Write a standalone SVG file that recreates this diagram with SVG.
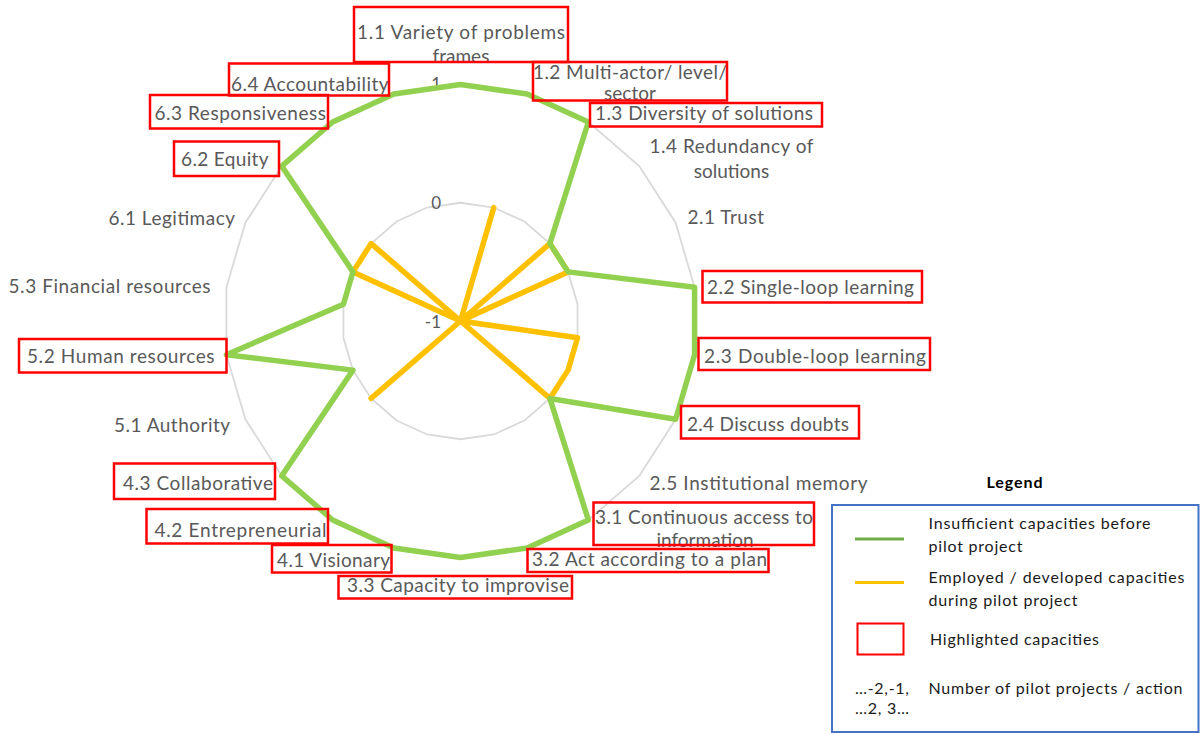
<svg xmlns="http://www.w3.org/2000/svg" width="1201" height="734" viewBox="0 0 1201 734">
<style>
.lbl{font-family:Lato,"Liberation Sans",sans-serif;font-size:19px;fill:#595959}
.tick{font-family:Lato,"Liberation Sans",sans-serif;font-size:17px;fill:#595959;text-anchor:end}
.hl{fill:none;stroke:#ff0000;stroke-width:2.5}
.grid{fill:none;stroke:#d9d9d9;stroke-width:1.8}
.lg{font-family:Lato,"Liberation Sans",sans-serif;font-size:16px;fill:#1a1a1a}
</style>
<rect width="1201" height="734" fill="#ffffff"/>
<g id="grid">
<polygon class="grid" points="460.5,84.5 527.13,94.08 588.36,122.04 639.24,166.13 675.63,222.75 694.59,287.34 694.59,354.66 675.63,419.25 639.24,475.87 588.36,519.96 527.13,547.92 460.5,557.5 393.87,547.92 332.64,519.96 281.76,475.87 245.37,419.25 226.41,354.66 226.41,287.34 245.37,222.75 281.76,166.13 332.64,122.04 393.87,94.08"/>
<polygon class="grid" points="460.5,202.75 493.81,207.54 524.43,221.52 549.87,243.56 568.06,271.88 577.55,304.17 577.55,337.83 568.06,370.12 549.87,398.44 524.43,420.48 493.81,434.46 460.5,439.25 427.19,434.46 396.57,420.48 371.13,398.44 352.94,370.12 343.45,337.83 343.45,304.17 352.94,271.88 371.13,243.56 396.57,221.52 427.19,207.54"/>
<text class="tick" x="441" y="90">1</text>
<text class="tick" x="441" y="209">0</text>
<text class="tick" x="441" y="328">-1</text>
</g>
<g id="connectors">
<polygon id="series-employed" fill="none" stroke="#ffc000" stroke-width="5.5" stroke-linejoin="round" points="460.5,321 493.81,207.54 460.5,321 549.87,243.56 568.06,271.88 460.5,321 577.55,337.83 568.06,370.12 549.87,398.44 460.5,321 371.13,398.44 460.5,321 352.94,271.88 371.13,243.56 460.5,321"/>
<polygon id="series-insufficient" fill="none" stroke="#92d050" stroke-width="5.5" stroke-linejoin="round" points="460.5,84.5 527.13,94.08 588.36,122.04 549.87,243.56 568.06,271.88 694.59,287.34 694.59,354.66 675.63,419.25 549.87,398.44 588.36,519.96 527.13,547.92 460.5,557.5 393.87,547.92 332.64,519.96 281.76,475.87 352.94,370.12 226.41,354.66 343.45,304.17 352.94,271.88 281.76,166.13 332.64,122.04 393.87,94.08"/>
</g>
<g id="n1-1"><text class="lbl" x="357" y="38.5" textLength="208">1.1 Variety of problems</text><text class="lbl" x="461" y="62.5" text-anchor="middle">frames</text><rect class="hl" x="354" y="7" width="214" height="55"/></g>
<g id="n1-2"><text class="lbl" x="533" y="78.5" textLength="194">1.2 Multi-actor/ level/</text><text class="lbl" x="630" y="99.5" text-anchor="middle">sector</text><rect class="hl" x="533" y="62" width="194" height="38.5"/></g>
<g id="n1-3"><text class="lbl" x="595" y="119.5" textLength="218">1.3 Diversity of solutions</text><rect class="hl" x="590" y="103" width="232" height="23.5"/></g>
<g id="n1-4"><text class="lbl" x="649.5" y="153" textLength="164">1.4 Redundancy of</text><text class="lbl" x="731.5" y="177.5" text-anchor="middle">solutions</text></g>
<g id="n2-1"><text class="lbl" x="687.5" y="224" textLength="76.5">2.1 Trust</text></g>
<g id="n2-2"><text class="lbl" x="707" y="294" textLength="207">2.2 Single-loop learning</text><rect class="hl" x="702.5" y="271" width="219.5" height="31.5"/></g>
<g id="n2-3"><text class="lbl" x="704" y="363" textLength="222">2.3 Double-loop learning</text><rect class="hl" x="698.5" y="338" width="231.5" height="32"/></g>
<g id="n2-4"><text class="lbl" x="687" y="431" textLength="162">2.4 Discuss doubts</text><rect class="hl" x="681" y="406" width="178" height="32.5"/></g>
<g id="n2-5"><text class="lbl" x="649.5" y="490" textLength="218">2.5 Institutional memory</text></g>
<g id="n3-1"><text class="lbl" x="595" y="523.5" textLength="218">3.1 Continuous access to</text><text class="lbl" x="705" y="546.5" text-anchor="middle">information</text><rect class="hl" x="593.5" y="502.5" width="220.5" height="42.5"/></g>
<g id="n3-2"><text class="lbl" x="532" y="565.5" textLength="235">3.2 Act according to a plan</text><rect class="hl" x="527.5" y="549" width="241" height="23"/></g>
<g id="n3-3"><text class="lbl" x="347" y="591.5" textLength="222">3.3 Capacity to improvise</text><rect class="hl" x="338.5" y="576" width="233.5" height="22.5"/></g>
<g id="n4-1"><text class="lbl" x="277" y="566.5" textLength="113">4.1 Visionary</text><rect class="hl" x="272" y="545" width="119.5" height="27.5"/></g>
<g id="n4-2"><text class="lbl" x="154.5" y="536.5" textLength="172">4.2 Entrepreneurial</text><rect class="hl" x="146.5" y="509" width="181.5" height="34.5"/></g>
<g id="n4-3"><text class="lbl" x="123" y="490" textLength="150">4.3 Collaborative</text><rect class="hl" x="114" y="463.5" width="161" height="35.5"/></g>
<g id="n5-1"><text class="lbl" x="114" y="431.5" textLength="116">5.1 Authority</text></g>
<g id="n5-2"><text class="lbl" x="27" y="363" textLength="187.5">5.2 Human resources</text><rect class="hl" x="19" y="339" width="207.5" height="33.5"/></g>
<g id="n5-3"><text class="lbl" x="8.5" y="293" textLength="202">5.3 Financial resources</text></g>
<g id="n6-1"><text class="lbl" x="108.5" y="225" textLength="126.5">6.1 Legitimacy</text></g>
<g id="n6-2"><text class="lbl" x="181" y="166" textLength="87.5">6.2 Equity</text><rect class="hl" x="174" y="141.5" width="105" height="34.5"/></g>
<g id="n6-3"><text class="lbl" x="154.5" y="120" textLength="171.5">6.3 Responsiveness</text><rect class="hl" x="150" y="95" width="178" height="33.5"/></g>
<g id="n6-4"><text class="lbl" x="231" y="90.5" textLength="157.5">6.4 Accountability</text><rect class="hl" x="229" y="63.5" width="160" height="32"/></g>
<g id="legend">
<text x="986.5" y="487.5" font-family="Lato,'Liberation Sans',sans-serif" font-size="16" font-weight="bold" fill="#000000" textLength="56">Legend</text>
<rect x="832" y="505" width="366.5" height="227" fill="none" stroke="#4472c4" stroke-width="2"/>
<line x1="855" y1="539" x2="904" y2="539" stroke="#70ad47" stroke-width="3"/>
<text class="lg" x="928.5" y="528.5" textLength="222">Insufficient capacities before</text>
<text class="lg" x="928.5" y="551.5" textLength="94">pilot project</text>
<line x1="855" y1="582.5" x2="904" y2="582.5" stroke="#ffc000" stroke-width="3"/>
<text class="lg" x="928.5" y="582.5" textLength="256">Employed / developed capacities</text>
<text class="lg" x="928.5" y="605.5" textLength="149">during pilot project</text>
<rect x="857.5" y="623.5" width="46" height="31" fill="none" stroke="#ff0000" stroke-width="2"/>
<text class="lg" x="930" y="645" textLength="169">Highlighted capacities</text>
<text class="lg" x="855" y="693.5" font-size="14" textLength="54">…-2,-1,</text>
<text class="lg" x="855" y="713.5" font-size="14" textLength="54">…2, 3…</text>
<text class="lg" x="928.5" y="694" textLength="254">Number of pilot projects / action</text>
</g>
</svg>
